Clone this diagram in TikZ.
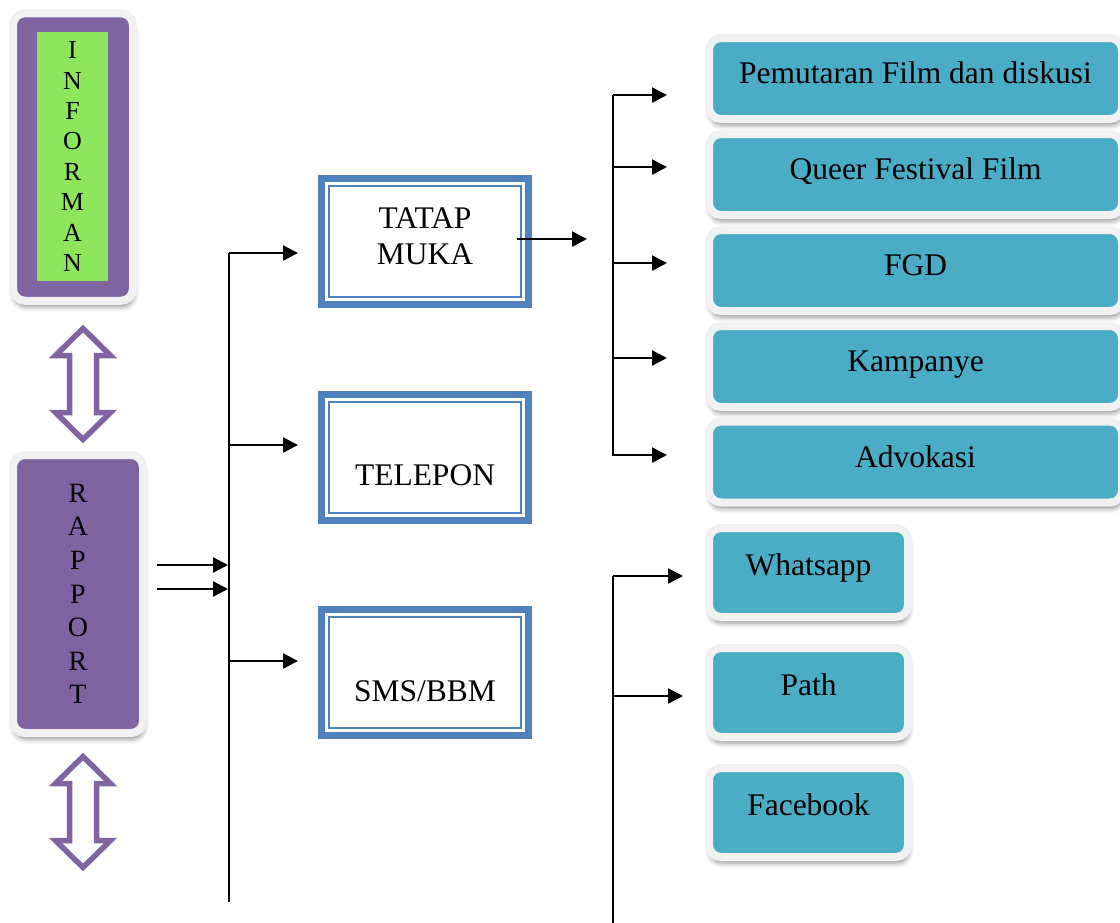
\documentclass[tikz,border=0pt]{standalone}
\usepackage{fontspec}
\setmainfont{Liberation Serif}
\usetikzlibrary{arrows.meta,shadows.blur,calc}

\definecolor{violetbox}{HTML}{8064A2}
\definecolor{limebox}{HTML}{8EE65C}
\definecolor{aquabox}{HTML}{4BACC6}
\definecolor{framebox}{HTML}{4F81BD}
\definecolor{rimgray}{HTML}{F1F1F1}

\tikzset{
  updown/.pic={
    \draw[violetbox, line width=5.5pt, fill=white, miter limit=10]
      (0,3.5) -- (27.5,30.5) -- (13.5,30.5) -- (13.5,87.5) -- (27.5,87.5)
      -- (0,114.5) -- (-27.5,87.5) -- (-13.5,87.5) -- (-13.5,30.5)
      -- (-27.5,30.5) -- cycle;
  }
}

\begin{document}
\begin{tikzpicture}[x=1pt,y=-1pt,
  txt/.style={font=\fontsize{31.5}{36}\selectfont, inner sep=0pt},
  rim/.style={draw=rimgray, line width=8pt, rounded corners=12pt, outer sep=0pt,
    inner sep=0pt,
    blur shadow={shadow xshift=1pt, shadow yshift=-6pt,
      shadow blur radius=5pt, shadow opacity=45}},
  aqua/.style={rim, fill=aquabox, font=\fontsize{31.5}{36}\selectfont,
    minimum width=413pt, minimum height=81pt, text height=20pt, text depth=10pt},
  smallaqua/.style={rim, fill=aquabox, font=\fontsize{31.5}{36}\selectfont,
    minimum width=199pt, minimum height=89pt, text height=20pt, text depth=15pt},
  bluebox/.style={draw=framebox, line width=7pt, fill=white, outer sep=0pt,
    inner sep=0pt, minimum width=207pt, minimum height=126pt},
  innerline/.style={draw=framebox, line width=2pt},
  ln/.style={line width=2.4pt},
  arr/.style={line width=2.4pt, -{Triangle[length=15pt,width=15pt]}}
]
\useasboundingbox (0,0) rectangle (1120,922);

% left column: informan and rapport
\node[rim, fill=violetbox, minimum width=120pt, minimum height=287.5pt] (inf) at (73,157) {};
\node[fill=limebox, inner sep=0pt, minimum width=71pt, minimum height=249pt,
  align=center, font=\fontsize{26}{30.4}\selectfont] (infg) at (72.5,156.5)
  {I\\N\\F\\O\\R\\M\\A\\N};
\node[rim, fill=violetbox, minimum width=130pt, minimum height=278pt,
  align=center, font=\fontsize{28}{33.6}\selectfont] (rap) at (78,594)
  {R\\A\\P\\P\\O\\R\\T};
\pic (ud1) at (83,325) {updown};
\pic (ud2) at (83,753) {updown};

% communication channels
\node[bluebox] (tm) at (425,241) {};
\node[bluebox] (tel) at (425,457) {};
\node[bluebox] (sms) at (425,672.5) {};
\foreach \b in {tm,tel,sms}
  \draw[innerline] ([shift={(7.5,7.5)}]\b.north west) rectangle ([shift={(-7.5,-7.5)}]\b.south east);
\node[txt, align=center, anchor=north] (tmt) at (425,207) {TATAP\\MUKA};
\node[txt, anchor=base] (telt) at (425,485) {TELEPON};
\node[txt, anchor=base] (smst) at (425,701) {SMS/BBM};

% face-to-face activities
\node[aqua] (pf) at (915.5,78.5) {Pemutaran Film dan diskusi};
\node[aqua] (qf) at (915.5,174.5) {Queer Festival Film};
\node[aqua] (fgd) at (915.5,270.5) {FGD};
\node[aqua] (kp) at (915.5,366.5) {Kampanye};
\node[aqua] (adv) at (915.5,462) {Advokasi};

% social media
\node[smallaqua] (wa) at (808.5,572.5) {Whatsapp};
\node[smallaqua] (pa) at (808.5,692.5) {Path};
\node[smallaqua] (fb) at (808.5,812.5) {Facebook};

% left trunk
\coordinate (lt) at (229,253);
\coordinate (lb) at (229,902);
\coordinate (l2) at (229,445);
\coordinate (l3) at (229,661);
\draw[ln] (lt) -- (lb);
\draw[arr, shorten >=23.5pt] (lt) -- (lt -| tm.west);
\draw[arr, shorten >=23.5pt] (l2) -- (l2 -| tel.west);
\draw[arr, shorten >=23.5pt] (l3) -- (l3 -| sms.west);

\coordinate (r1) at (157,565);
\coordinate (r2) at (157,589);
\draw[arr, shorten >=1pt] (r1) -- (r1 -| lt);
\draw[arr, shorten >=1pt] (r2) -- (r2 -| lt);

% tatap muka out
\coordinate (tmo) at (587,239);
\draw[arr] ([shift={(-11.5,-2)}]tm.east) -- (tmo);

% right trunk, activities
\coordinate (rt) at (613,95);
\coordinate (rb) at (613,456);
\draw[ln] (rt) -- (rb);
\foreach \yy/\bx in {95/pf,167/qf,263/fgd,358/kp,455/adv}{
  \coordinate (j\bx) at (613,\yy);
  \draw[arr, shorten >=42pt] (j\bx) -- (j\bx -| \bx.west);
}

% lower trunk, social media
\coordinate (st) at (613,576);
\coordinate (sb) at (613,930);
\coordinate (s2) at (613,696);
\draw[ln] (st) -- (sb);
\draw[arr, shorten >=26pt] (st) -- (st -| wa.west);
\draw[arr, shorten >=26pt] (s2) -- (s2 -| pa.west);
\end{tikzpicture}
\end{document}
